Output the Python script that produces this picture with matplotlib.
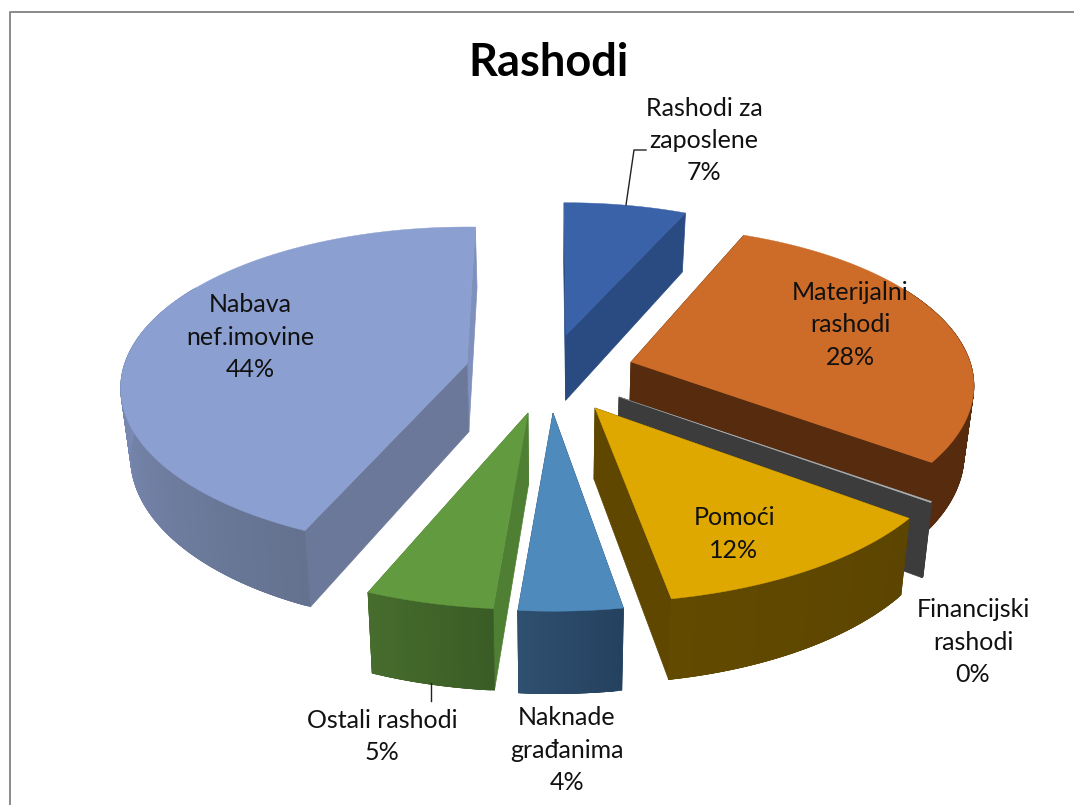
import numpy as np
import matplotlib
matplotlib.use('Agg')
import matplotlib.pyplot as plt
from matplotlib.colors import to_rgb
from matplotlib.patches import Polygon

plt.rcParams['font.family'] = ['Lato', 'DejaVu Sans']

# chart data, shares in percent
names = ['Rashodi za\nzaposlene', 'Materijalni\nrashodi', 'Financijski\nrashodi', 'Pomoći',
         'Naknade\ngrađanima', 'Ostali rashodi', 'Nabava\nnef.imovine']
values = [6.6, 28.4, 0.1, 12.0, 4.2, 4.9, 43.8]

# slice styles
top_colors = ['#3a62a9', '#cd6b28', '#b4b4b4', '#dfa800', '#4f8abc', '#629a3f', '#8c9fd1']
start_face = ['#2a4a82', '#562b0e', '#3c3c3c', '#5f4700', '#2f506f', '#4f7f33', '#6b7899']
end_face = ['#2a4a82', '#562b0e', '#3c3c3c', '#5f4700', '#2f506f', '#4f7f33', '#7f90bd']
side_from = ['#2a4a82', '#562b0e', '#3c3c3c', '#5c4500', '#254160', '#3a5c26', '#64728f']
side_to = ['#2a4a82', '#562b0e', '#3c3c3c', '#624a00', '#2f506f', '#476d2d', '#9bace8']

# layout of the exploded slices: apex in pixels and perspective scale
apex_x = [566, 631, 619, 595, 553, 528, 467]
apex_y = [335, 362, 397, 408, 413, 413, 364]
scale = [0.975, 1.0, 1.04, 1.06, 1.08, 1.07, 1.01]
start_nudge = [-0.4, -1.5, 0, 1.0, 1.0, 0, 1.8]
end_nudge = [0.5, 0, 0, 0, 0, 0, 1.6]

# projection settings
RX = 339
RY = 156
PERSP = 0.15
DEPTH = 67
CONVERGE = 0.023
VANISH_X = 550


def top_point(i, theta):
    t = np.radians(theta)
    w = 1 + PERSP * np.cos(t)
    x = apex_x[i] + scale[i] * RX * np.sin(t) / w
    y = apex_y[i] - scale[i] * RY * np.cos(t) / w
    return x, y, w


def bottom_point(i, x, y, w):
    x2 = x + (VANISH_X - x) * CONVERGE
    y2 = y + DEPTH * scale[i] / w ** 0.8
    return x2, y2


def quad(ax, pts, color):
    ax.add_patch(Polygon(pts, closed=True, facecolor=color, edgecolor=color, linewidth=0.5))


def draw_slice(ax, i, t1, t2):
    thetas = np.linspace(t1, t2, max(int(t2 - t1) * 2, 2) + 1)
    step = thetas[1] - thetas[0]
    tip_x, tip_y = apex_x[i], apex_y[i]
    tip_bx, tip_by = bottom_point(i, tip_x, tip_y, 1)

    # the two cut faces
    for theta, col in [(t2, end_face[i]), (t1, start_face[i])]:
        x, y, w = top_point(i, theta)
        bx, by = bottom_point(i, x, y, w)
        quad(ax, [(tip_x, tip_y), (x, y), (bx, by), (tip_bx, tip_by)], col)

    # outer wall, overlapping strips for the shading, the back part is hidden anyway
    c1 = np.array(to_rgb(side_from[i]))
    c2 = np.array(to_rgb(side_to[i]))
    for a in thetas[:-1]:
        if np.cos(np.radians(a)) > 0.5:
            continue
        b = min(a + 3 * step, t2)
        xa, ya, wa = top_point(i, a)
        xb, yb, wb = top_point(i, b)
        f = (a - t1) / (t2 - t1)
        quad(ax, [(xa, ya), (xb, yb), bottom_point(i, xb, yb, wb), bottom_point(i, xa, ya, wa)],
             tuple(c1 + (c2 - c1) * f))

    # top surface
    pts = [(tip_x, tip_y)] + [top_point(i, a)[:2] for a in thetas]
    ax.add_patch(Polygon(pts, closed=True, facecolor=top_colors[i], edgecolor=top_colors[i], linewidth=0.3))


fig = plt.figure(figsize=(10.74, 8.05), dpi=100)
ax = fig.add_axes([0, 0, 1, 1])
ax.set_xlim(0, 1074)
ax.set_ylim(805, 0)
ax.axis('off')

# chart frame
ax.plot([9.5, 9.5, 1074], [805, 12, 12], color='#8a8a8a', lw=1.4)

edges = np.concatenate([[0], np.cumsum(values)]) * 3.6
# back slices first so the nearer ones cover them
for i in [0, 1, 6, 2, 3, 4, 5]:
    draw_slice(ax, i, edges[i] + start_nudge[i], edges[i + 1] + end_nudge[i])

# leader lines
ax.plot([626, 634, 646], [205, 150, 150], color='#222222', lw=1)
ax.plot([431, 431], [683, 701], color='#222222', lw=1)

ax.text(548, 63, 'Rashodi', fontsize=32.5, fontweight='bold', ha='center', va='center', color='black')

label_x = [704, 850, 973, 734, 567, 382, 250]
label_y = [140.5, 324.5, 642, 534, 750, 736.5, 337]
for i in range(len(names)):
    ax.text(label_x[i], label_y[i], names[i] + '\n' + '%.0f%%' % values[i], fontsize=18,
            ha='center', va='center', color='#111111', linespacing=1.5)

fig.savefig('out.png', dpi=100)
